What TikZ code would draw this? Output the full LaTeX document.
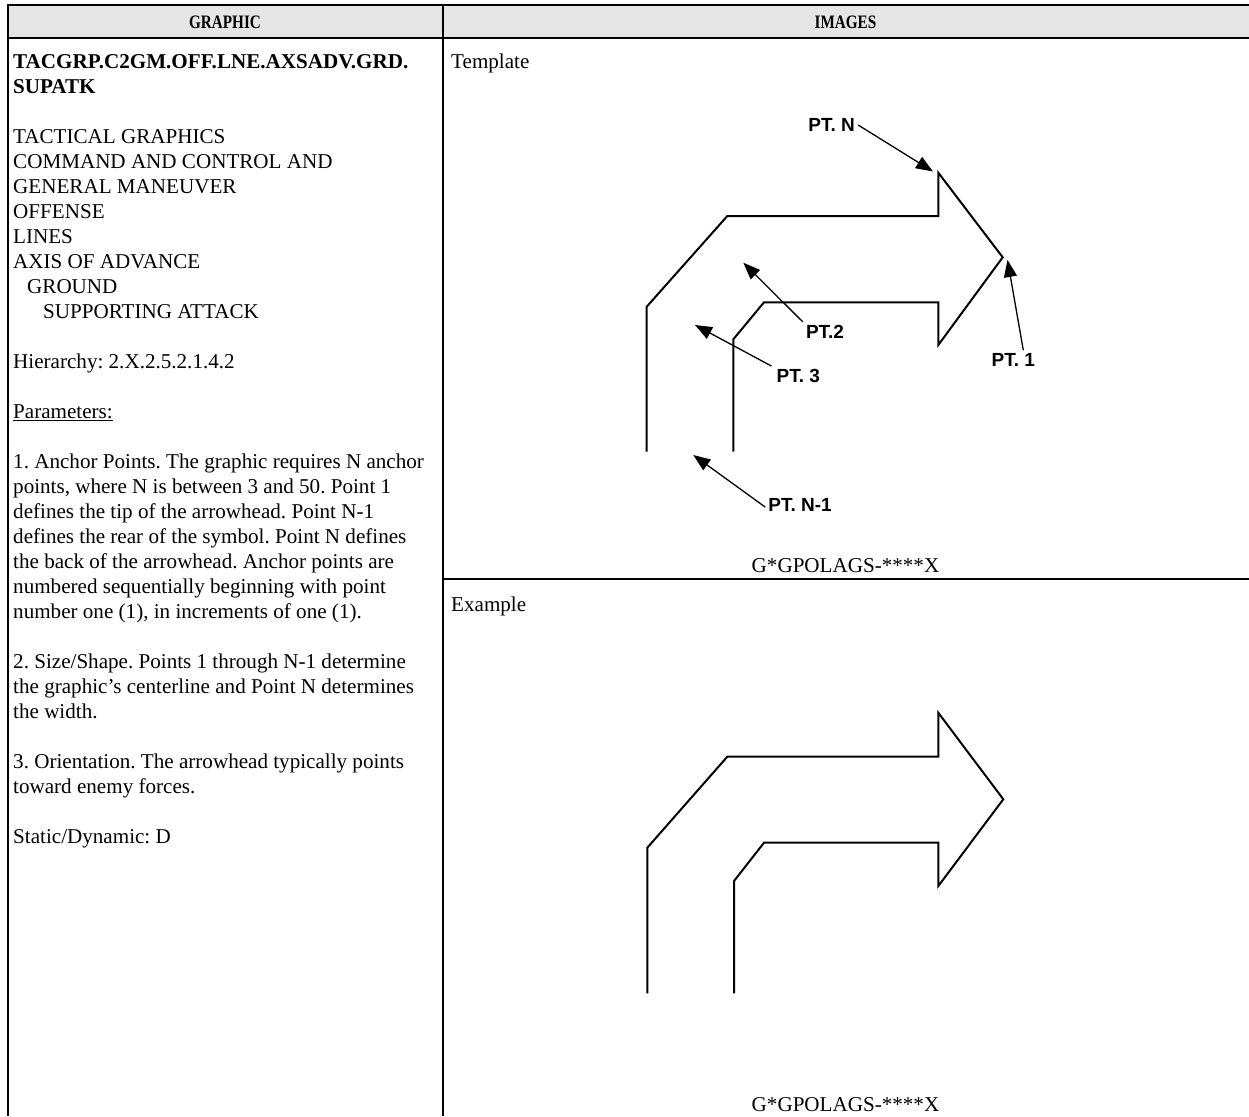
\documentclass[tikz,border=0pt]{standalone}
\usepackage{fontspec}
\setmainfont{Liberation Serif}
\newfontfamily\arialfont{Liberation Sans}
\usetikzlibrary{arrows.meta}
\frenchspacing
\tikzset{
  tbl/.style={line width=2pt, black},
  shp/.style={line width=2pt, black, line join=miter},
  lbl/.style={font=\arialfont\bfseries\fontsize{19}{22}\selectfont, inner sep=3pt},
  ptarrow/.style={line width=1.3pt, -{Triangle[length=17pt,width=13pt]}},
  body/.style={font=\fontsize{21.1}{25}\selectfont, inner sep=0pt},
  hdr/.style={font=\bfseries\fontsize{19}{22}\selectfont, inner sep=0pt},
}
\begin{document}
\begin{tikzpicture}[x=1pt,y=-1pt]
\frenchspacing
\useasboundingbox (0,0) rectangle (1249,1116);
% header
\fill[gray!20] (8,5) rectangle (1249,38);
\draw[tbl] (8,5) -- (1249,5);
\draw[tbl] (8,38) -- (1249,38);
\draw[tbl] (8,4) -- (8,1116);
\draw[tbl] (442.5,4) -- (442.5,1116);
\draw[tbl] (442.5,579) -- (1249,579);
\node[hdr] (hG) at (225,22) {\scalebox{0.8}[1]{GRAPHIC}};
\node[hdr] (hI) at (845.5,22) {\scalebox{0.8}[1]{IMAGES}};
% left text
\node[body, anchor=north west, align=left] (txt) at (13,54) {%
\textbf{TACGRP.C2GM.OFF.LNE.AXSADV.GRD.}\\
\textbf{SUPATK}\\[25pt]
TACTICAL GRAPHICS\\
COMMAND AND CONTROL AND\\
GENERAL MANEUVER\\
OFFENSE\\
LINES\\
AXIS OF ADVANCE\\
\hspace*{14pt}GROUND\\
\hspace*{30pt}SUPPORTING ATTACK\\[25pt]
Hierarchy: 2.X.2.5.2.1.4.2\\[25pt]
\underline{Parameters:}\\[25pt]
1. Anchor Points. The graphic requires N anchor\\
points, where N is between 3 and 50. Point 1\\
defines the tip of the arrowhead. Point N-1\\
defines the rear of the symbol. Point N defines\\
the back of the arrowhead. Anchor points are\\
numbered sequentially beginning with point\\
number one (1), in increments of one (1).\\[25pt]
2. Size/Shape. Points 1 through N-1 determine\\
the graphic’s centerline and Point N determines\\
the width.\\[25pt]
3. Orientation. The arrowhead typically points\\
toward enemy forces.\\[25pt]
Static/Dynamic: D};
% right labels
\node[body, anchor=base west] (tmpl) at (451,68) {Template};
\node[body, anchor=base west] (exmp) at (451,611) {Example};
\node[body, anchor=base] (cap1) at (845.5,572) {G*GPOLAGS-****X};
\node[body, anchor=base] (cap2) at (845.5,1111) {G*GPOLAGS-****X};
% template shape
\draw[shp] (646.7,451.7) -- (646.7,306.7) -- (727.3,216) -- (938.3,216) -- (938.3,172.7)
  -- (1002.7,257.3) -- (938.3,345) -- (938.3,302.3) -- (764,302.3) -- (733.3,339.3) -- (733.3,451.7);
% template labels and arrows
\node[lbl] (ptN) at (831.7,125) {PT. N};
\node[lbl] (ptTwo) at (825,331.7) {PT.2};
\node[lbl] (ptThree) at (798.3,376) {PT. 3};
\node[lbl] (ptOne) at (1013.3,360) {PT. 1};
\node[lbl] (ptNm) at (800,505) {PT. N-1};
\coordinate (aN) at (933,171.5);
\coordinate (aTwo) at (743.3,262.7);
\coordinate (aThree) at (695,325);
\coordinate (aOne) at (1007.5,260);
\coordinate (aNm) at (693.3,455);
\draw[ptarrow] (ptN.east) -- (aN);
\draw[ptarrow] (ptTwo.north west) -- (aTwo);
\draw[ptarrow] ([xshift=-2pt]ptThree.north west) -- (aThree);
\draw[ptarrow] ([xshift=10pt]ptOne.north) -- (aOne);
\draw[ptarrow] ([yshift=-2pt]ptNm.west) -- (aNm);
% example shape
\draw[shp] (647.3,993.3) -- (647.3,847.7) -- (727.3,756.7) -- (938.3,756.7) -- (938.3,712.7)
  -- (1003.3,799.3) -- (938.3,886) -- (938.3,842.7) -- (764,842.7) -- (734,881) -- (734,993.3);
\end{tikzpicture}
\end{document}
